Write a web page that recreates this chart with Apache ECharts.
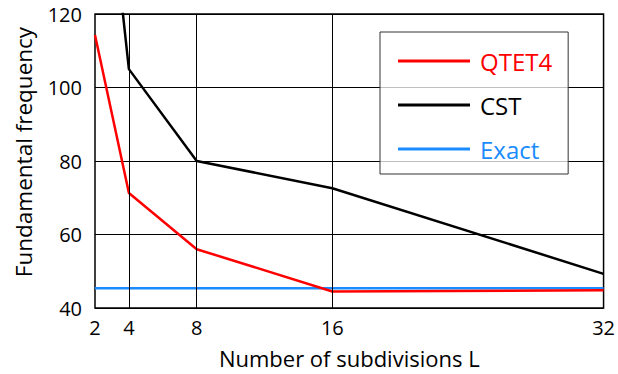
<!DOCTYPE html>
<html><head><meta charset="utf-8">
<script src="https://cdn.jsdelivr.net/npm/echarts@6/dist/echarts.min.js"></script>
<style>html,body{margin:0;padding:0;background:#fff}#c{width:618px;height:374px}</style>
</head><body><div id="c"></div>
<script>
const xTicks = [2, 4, 8, 16, 32];
const subdivisions = [2, 4, 8, 16, 32];
const qtet4 = [114.3, 71.3, 56.0, 44.5, 44.8];
const cst = [190, 105, 80, 72.6, 49.3];
const exact = [45.4, 45.4, 45.4, 45.4, 45.4];
const yTicks = [40, 60, 80, 100, 120];
const innerGridX = [4, 8, 16];

const font = 'Open Sans';
const chart = echarts.init(document.getElementById('c'), null, {renderer: 'svg'});
function pts(ys){ return subdivisions.map((x,i)=>[x, ys[i]]); }
chart.setOption({
  animation: false,
  textStyle: {fontFamily: font},
  grid: {left: 95, right: 9, top: 14, bottom: 66, show: true, borderColor: '#000', borderWidth: 1.5, backgroundColor: 'transparent'},
  xAxis: {
    type: 'value', min: 2, max: 32,
    name: 'Number of subdivisions L', nameLocation: 'middle', nameGap: 39,
    nameTextStyle: {fontFamily: font, fontSize: 22, color: '#000'},
    axisLine: {show: false}, axisTick: {show: false}, splitLine: {show: false},
    axisLabel: {customValues: xTicks, fontFamily: font, fontSize: 20, color: '#000', margin: 9}
  },
  yAxis: {
    type: 'value', min: 40, max: 120, interval: 20,
    name: 'Fundamental frequency', nameLocation: 'middle', nameGap: 60,
    nameTextStyle: {fontFamily: font, fontSize: 22.5, color: '#000', padding: [0, 0, 0, 18]},
    axisLine: {show: false}, axisTick: {show: false},
    splitLine: {show: true, lineStyle: {color: '#000', width: 1}},
    axisLabel: {fontFamily: font, fontSize: 20, color: '#000', margin: 13}
  },
  legend: {
    orient: 'vertical', left: 380, top: 32,
    backgroundColor: 'rgba(255,255,255,0.75)', borderColor: '#333', borderWidth: 1,
    padding: [15, 16, 11, 18], itemGap: 16, itemWidth: 72, itemHeight: 3, icon: 'rect',
    data: [
      {name: 'QTET4', textStyle: {color: '#ff0000'}},
      {name: 'CST', textStyle: {color: '#000'}},
      {name: 'Exact', textStyle: {color: '#1a8cff'}}
    ],
    textStyle: {fontFamily: font, fontSize: 24, lineHeight: 28, padding: [0, 0, 0, 5]}
  },
  series: [
    {name: 'grid', type: 'line', data: [], silent: true,
     markLine: {silent: true, symbol: 'none', label: {show: false},
       lineStyle: {color: '#000', width: 1, type: 'solid'},
       data: innerGridX.map(v => ({xAxis: v}))}},
    {name: 'Exact', type: 'line', data: pts(exact), showSymbol: false, symbol: 'none',
     lineStyle: {color: '#1a8cff', width: 2.5}, itemStyle: {color: '#1a8cff'}},
    {name: 'CST', type: 'line', data: pts(cst), showSymbol: false, symbol: 'none', clip: true,
     lineStyle: {color: '#000', width: 2.5}, itemStyle: {color: '#000'}},
    {name: 'QTET4', type: 'line', data: pts(qtet4), showSymbol: false, symbol: 'none',
     lineStyle: {color: '#ff0000', width: 2.5}, itemStyle: {color: '#ff0000'}}
  ]
});
</script></body></html>
